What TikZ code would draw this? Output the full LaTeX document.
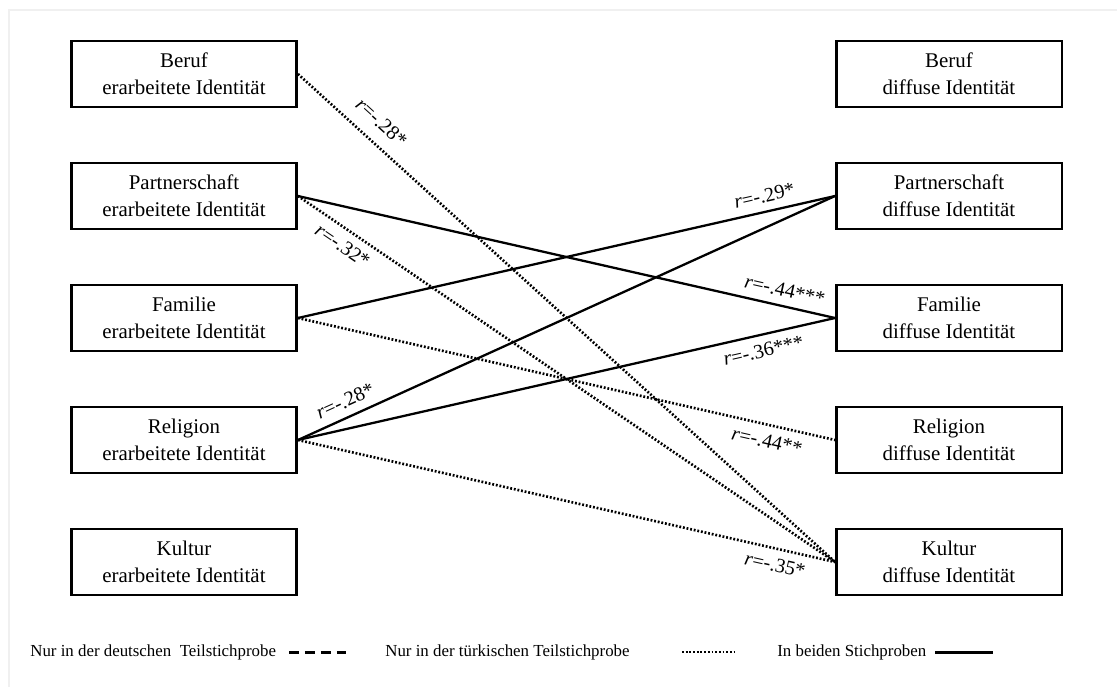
\documentclass[tikz,border=0pt]{standalone}
\usepackage{fontspec}
\setmainfont{Liberation Serif}
\usetikzlibrary{positioning}

\begin{document}
\begin{tikzpicture}[
    x=0.02cm, y=-0.02cm,
    % Kasten fuer jede Identitaet
    kasten/.style={
        draw, line width=1.4pt,
        minimum width=4.51cm, minimum height=1.31cm,
        align=center, inner sep=0pt,
        font=\fontsize{11.9}{15.3}\selectfont
    },
    % In beiden Stichproben (durchgezogen)
    beide/.style={line width=1.3pt},
    % Nur tuerkische Teilstichprobe (gepunktet)
    tuerkisch/.style={line width=1.5pt, dash pattern=on 1.05pt off 1.05pt},
    % Nur deutsche Teilstichprobe (gestrichelt)
    deutsch/.style={line width=1.7pt, dash pattern=on 5.7pt off 3.4pt},
    % Korrelationskoeffizienten
    koeff/.style={sloped, inner sep=4.5pt, font=\fontsize{11.5}{13}\selectfont},
    legende/.style={font=\fontsize{9.6}{12}\selectfont, anchor=west, inner sep=0pt}
]
    % --- PARAMETER ---
    \def\xL{184}
    \def\xR{949}

    \useasboundingbox (0,0) rectangle (1117,687);
    \draw[black!6, line width=0.8pt] (9,687) -- (9,10) -- (1117,10);

    % 1. Erarbeitete Identitaet (links)
    \node[kasten] (beruf-e)    at (\xL,74)  {Beruf\\erarbeitete Identität};
    \node[kasten] (partner-e)  at (\xL,196) {Partnerschaft\\erarbeitete Identität};
    \node[kasten] (familie-e)  at (\xL,318) {Familie\\erarbeitete Identität};
    \node[kasten] (religion-e) at (\xL,440) {Religion\\erarbeitete Identität};
    \node[kasten] (kultur-e)   at (\xL,562) {Kultur\\erarbeitete Identität};

    % 2. Diffuse Identitaet (rechts)
    \node[kasten] (beruf-d)    at (\xR,74)  {Beruf\\diffuse Identität};
    \node[kasten] (partner-d)  at (\xR,196) {Partnerschaft\\diffuse Identität};
    \node[kasten] (familie-d)  at (\xR,318) {Familie\\diffuse Identität};
    \node[kasten] (religion-d) at (\xR,440) {Religion\\diffuse Identität};
    \node[kasten] (kultur-d)   at (\xR,562) {Kultur\\diffuse Identität};

    % 3. Zusammenhaenge in beiden Stichproben
    \draw[beide] (partner-e.east) -- (familie-d.west)
        node[koeff, pos=0.90, above] {\textit{r}=-.44***};
    \draw[beide] (familie-e.east) -- (partner-d.west)
        node[koeff, pos=0.875, above] {\textit{r}=-.29*};
    \draw[beide] (religion-e.east) -- (partner-d.west)
        node[koeff, pos=0.10, above] {\textit{r}=-.28*};
    \draw[beide] (religion-e.east) -- (familie-d.west)
        node[koeff, pos=0.86, below] {\textit{r}=-.36***};

    % 4. Nur in der tuerkischen Teilstichprobe
    \draw[tuerkisch] (beruf-e.east) -- (kultur-d.west)
        node[koeff, pos=0.13, above, inner sep=7pt] {\textit{r}=-.28*};
    \draw[tuerkisch] (partner-e.east) -- (kultur-d.west)
        node[koeff, pos=0.10, below] {\textit{r}=-.32*};
    \draw[tuerkisch] (familie-e.east) -- (religion-d.west)
        node[koeff, pos=0.88, below] {\textit{r}=-.44**};
    \draw[tuerkisch] (religion-e.east) -- (kultur-d.west)
        node[koeff, pos=0.895, below] {\textit{r}=-.35*};

    % 5. LEGENDE
    \node[legende] (leg-deutsch) at (30,652) {Nur in der deutschen \ Teilstichprobe};
    \coordinate (leg-deutsch-a) at (289,652);
    \coordinate (leg-deutsch-b) at (346,652);
    \draw[deutsch] (leg-deutsch-a) -- (leg-deutsch-b);

    \node[legende] (leg-tuerk) at (385,652) {Nur in der türkischen Teilstichprobe};
    \coordinate (leg-tuerk-a) at (682,652);
    \coordinate (leg-tuerk-b) at (735,652);
    \draw[tuerkisch, line width=1.1pt] (leg-tuerk-a) -- (leg-tuerk-b);

    \node[legende] (leg-beide) at (777,652) {In beiden Stichproben};
    \coordinate (leg-beide-a) at (935,652);
    \coordinate (leg-beide-b) at (993,652);
    \draw[beide, line width=1.7pt] (leg-beide-a) -- (leg-beide-b);

\end{tikzpicture}
\end{document}
